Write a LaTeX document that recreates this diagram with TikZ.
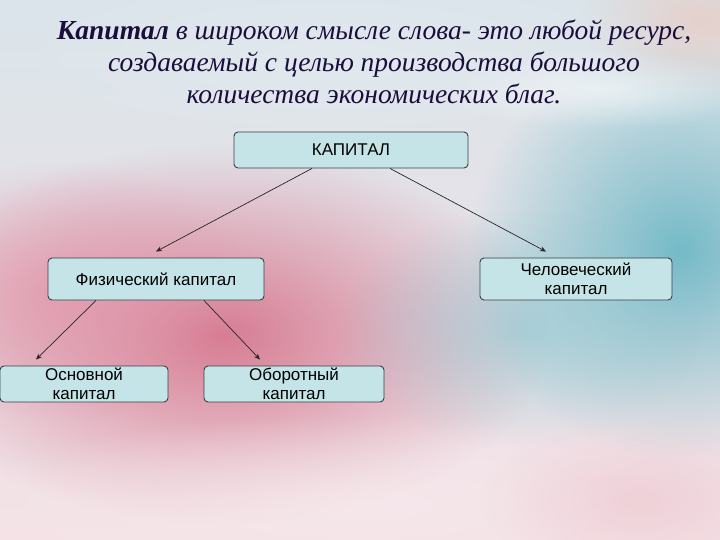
\documentclass[tikz,border=0pt]{standalone}
\usepackage{fontspec}
\setmainfont{Liberation Serif}
\newfontfamily\boxfont{Liberation Sans}
\usetikzlibrary{calc,fadings,arrows.meta}
\tikzfading[name=softblob, inner color=transparent!0, outer color=transparent!100]
\definecolor{boxfill}{HTML}{C4E4E7}
\definecolor{boxline}{HTML}{3A3F44}
\definecolor{titlecol}{HTML}{1A0E3C}
\definecolor{bgtop}{RGB}{218,228,234}
\definecolor{bgbot}{RGB}{244,226,230}
\definecolor{pinkA}{RGB}{214,118,142}
\definecolor{pinkB}{RGB}{226,150,170}
\definecolor{tealA}{RGB}{104,182,196}
\definecolor{tealB}{RGB}{140,200,210}
\definecolor{peach}{RGB}{232,200,190}
\definecolor{paleA}{RGB}{226,234,240}
\definecolor{paleB}{RGB}{246,232,236}
\definecolor{pinkC}{RGB}{236,190,200}
\tikzset{
  capbox/.style={draw=boxline, line width=0.9pt, fill=boxfill, rounded corners=4pt,
    align=center, font=\boxfont\fontsize{17}{19.5}\selectfont, inner sep=0pt},
  link/.style={draw=black!85, line width=0.7pt, -{Stealth[length=6pt,width=5pt]}},
  blob/.style={path fading=softblob}
}
\begin{document}
\begin{tikzpicture}[x=1pt,y=-1pt]
\useasboundingbox (0,0) rectangle (720,540);
% background
\shade[top color=bgtop, bottom color=bgbot] (0,0) rectangle (720,540);
\fill[blob,pinkA, opacity=0.95] (220,335) ellipse (330 and 190);
\fill[blob,pinkB, opacity=0.7] (60,290) ellipse (200 and 130);
\fill[blob,tealA, opacity=0.9] (680,250) ellipse (210 and 210);
\fill[blob,tealB, opacity=0.6] (520,330) ellipse (180 and 120);
\fill[blob,peach, opacity=0.7] (700,20) ellipse (120 and 80);
\fill[blob,white, opacity=0.6] (600,90) ellipse (160 and 40);
\fill[blob,paleA, opacity=0.8] (330,55) ellipse (360 and 90);
\fill[blob,paleB, opacity=0.8] (360,505) ellipse (420 and 90);
\fill[blob,pinkC, opacity=0.5] (640,500) ellipse (160 and 80);
% title
\node[text=titlecol, align=center, font=\itshape\fontsize{27.5}{32}\selectfont] (title) at (374,62)
  {\textbf{Капитал} в широком смысле слова- это любой ресурс,\\
   создаваемый с целью производства большого\\
   количества экономических благ.};
% boxes
\node[capbox, minimum width=234pt, minimum height=36pt] (kap) at (351,150) {КАПИТАЛ};
\node[capbox, minimum width=216pt, minimum height=42pt] (fiz) at (156,279) {Физический капитал};
\node[capbox, minimum width=192pt, minimum height=42pt] (chel) at (576,279) {Человеческий\\капитал};
\node[capbox, minimum width=168pt, minimum height=36pt] (osn) at (84,384) {Основной\\капитал};
\node[capbox, minimum width=180pt, minimum height=36pt] (obor) at (294,384) {Оборотный\\капитал};
% connectors
\draw[link] ($(kap.south)+(-39,0)$) -- ($(fiz.north)+(0,-6)$);
\draw[link] ($(kap.south)+(39,0)$) -- ($(chel.north)+(-30,-6)$);
\draw[link] ($(fiz.south)+(-60,0)$) -- ($(osn.north)+(-48,-6)$);
\draw[link] ($(fiz.south)+(48,0)$) -- ($(obor.north)+(-34,-6)$);
\end{tikzpicture}
\end{document}
